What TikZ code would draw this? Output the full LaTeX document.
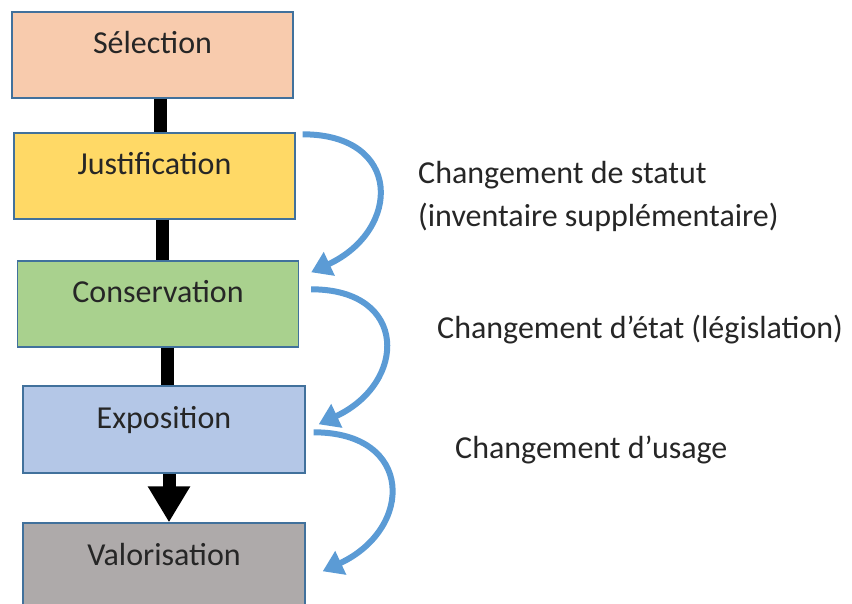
\documentclass[tikz,border=0pt]{standalone}
\usepackage{fontspec}
\setmainfont{Carlito}
\usetikzlibrary{arrows.meta, positioning}

\definecolor{selfill}{HTML}{F8CBAD}
\definecolor{justfill}{HTML}{FFD966}
\definecolor{consfill}{HTML}{A9D18E}
\definecolor{expofill}{HTML}{B4C7E7}
\definecolor{valofill}{HTML}{AEAAAA}
\definecolor{boxline}{HTML}{41719C}
\definecolor{changeblue}{HTML}{5B9BD5}

\begin{document}
\begin{tikzpicture}[
    x=1pt, y=1pt,
    font=\fontsize{32}{43}\selectfont,
    stage/.style={draw=boxline, line width=1.4pt, minimum width=281, minimum height=86,
                  inner sep=0pt, text height=22pt, text depth=24pt, text=black!85},
    flow/.style={line width=13pt, black},
    change/.style={line width=6pt, changeblue, -{Triangle[length=20pt, width=25pt]}},
    note/.style={anchor=west, inner sep=0pt, align=left, text=black!85},
]

\useasboundingbox (0,0) rectangle (852,-604);

% ── Stages ────────────────────────────────────────────────────────────────────
\node[stage, fill=selfill]  (sel)  at (152.5, -55)  {Sélection};
\node[stage, fill=justfill] (just) at (154.5, -176) {Justification};
\node[stage, fill=consfill] (cons) at (158,   -304) {Conservation};
\node[stage, fill=expofill, minimum width=282, minimum height=87] (expo) at (164, -429.5) {Exposition};
\node[stage, fill=valofill, minimum width=282] (valo) at (164, -566) {Valorisation};

% ── Main flow ─────────────────────────────────────────────────────────────────
\draw[flow] ([xshift=8]sel.south)  -- ([xshift=8]sel.south |- just.north);
\draw[flow] ([xshift=8]just.south) -- ([xshift=8]just.south |- cons.north);
\draw[flow] ([xshift=9]cons.south) -- ([xshift=9]cons.south |- expo.north);
\draw[flow, -{Triangle[length=36pt, width=40pt]}]
    ([xshift=5]expo.south) -- ([xshift=5]valo.north);

% ── Changes ───────────────────────────────────────────────────────────────────
\draw[change] ([shift={(7,-2)}]just.north east)
    to[out=0, in=25, looseness=1.85] ([shift={(12,-12)}]cons.north east);
\draw[change] ([shift={(12,-29)}]cons.north east)
    to[out=0, in=25, looseness=1.85] ([shift={(13,-39)}]expo.north east);
\draw[change] ([shift={(8,-47)}]expo.north east)
    to[out=0, in=25, looseness=1.85] ([shift={(17,-49)}]valo.north east);

% ── Labels ────────────────────────────────────────────────────────────────────
\node[note] (statut) at (418, -196.5) {Changement de statut\\(inventaire supplémentaire)};
\node[note] (etat)   at (437, -330)   {Changement d’état (législation)};
\node[note] (usage)  at (455, -450)   {Changement d’usage};

\end{tikzpicture}
\end{document}
